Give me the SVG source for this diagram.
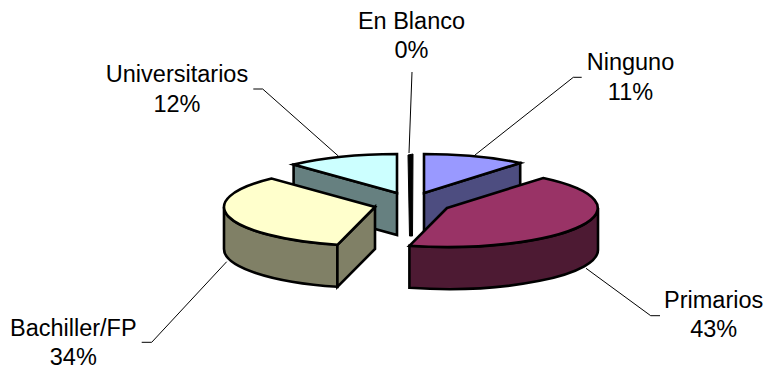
<svg xmlns="http://www.w3.org/2000/svg" width="767" height="372" viewBox="0 0 767 372">
<style>
.s{stroke:#000;stroke-width:2.6;stroke-linejoin:miter}
.c{stroke:#000;stroke-width:1;fill:none}
text{font-family:"Liberation Sans",Arial,sans-serif;font-size:23.5px;fill:#000;text-anchor:middle}
</style>
<rect width="767" height="372" fill="#fff"/>
<g id="ninguno">
<path class="s" fill="#4D4D80" d="M424,193 L520.2,163 L520.2,205 L424,235 Z"/>
<path class="s" fill="#9999FF" d="M424,193 L424,154 A151,39 0 0 1 520.2,163 Z"/>
</g>
<g id="universitarios">
<path class="s" fill="#668080" d="M397,193 L293.6,164.6 L293.6,206.6 L397,235 Z"/>
<path class="s" fill="#CCFFFF" d="M397,193 L293.6,164.6 A151,39 0 0 1 397,154 Z"/>
</g>
<g id="enblanco">
<path fill="#000" stroke="#000" stroke-width="1" d="M408,155 L413,154 L412.5,236 L409.5,236 Z"/>
</g>
<g id="bachiller">
<path class="s" fill="#808066" d="M337.4,244.8 A151,39 0 0 1 224,207 L224,249 A151,39 0 0 0 337.4,286.8 Z"/>
<path class="s" fill="#808066" d="M375,207 L337.4,244.8 L337.4,286.8 L375,249 Z"/>
<path class="s" fill="#FFFFCC" d="M375,207 L337.4,244.8 A151,39 0 0 1 271.6,178.6 Z"/>
</g>
<g id="primarios">
<path class="s" fill="#4D1A33" d="M598,208 A151,39 0 0 1 409.4,245.8 L409.4,287.8 A151,39 0 0 0 598,250 Z"/>
<path class="s" fill="#993366" d="M447,208 L543.2,178 A151,39 0 0 1 409.4,245.8 Z"/>
</g>
<g id="connectors">
<polyline class="c" points="412,72 409,153"/>
<polyline class="c" points="581.7,77.3 573.3,77.3 475,155"/>
<polyline class="c" points="253.3,89 262.7,89 338.3,156"/>
<polyline class="c" points="141.7,342.3 151.7,342.3 226.7,261.7"/>
<polyline class="c" points="660,315.7 650.7,315.7 586,268.3"/>
</g>
<g id="labels">
<text x="411.5" y="29.3">En Blanco</text>
<text x="411.5" y="58.3">0%</text>
<text x="630.5" y="70">Ninguno</text>
<text x="630.5" y="99.5">11%</text>
<text x="177" y="82.3">Universitarios</text>
<text x="177" y="111.7">12%</text>
<text x="73.3" y="335.5">Bachiller/FP</text>
<text x="73.3" y="364.5">34%</text>
<text x="713.7" y="308.3">Primarios</text>
<text x="713.7" y="337.3">43%</text>
</g>
</svg>
